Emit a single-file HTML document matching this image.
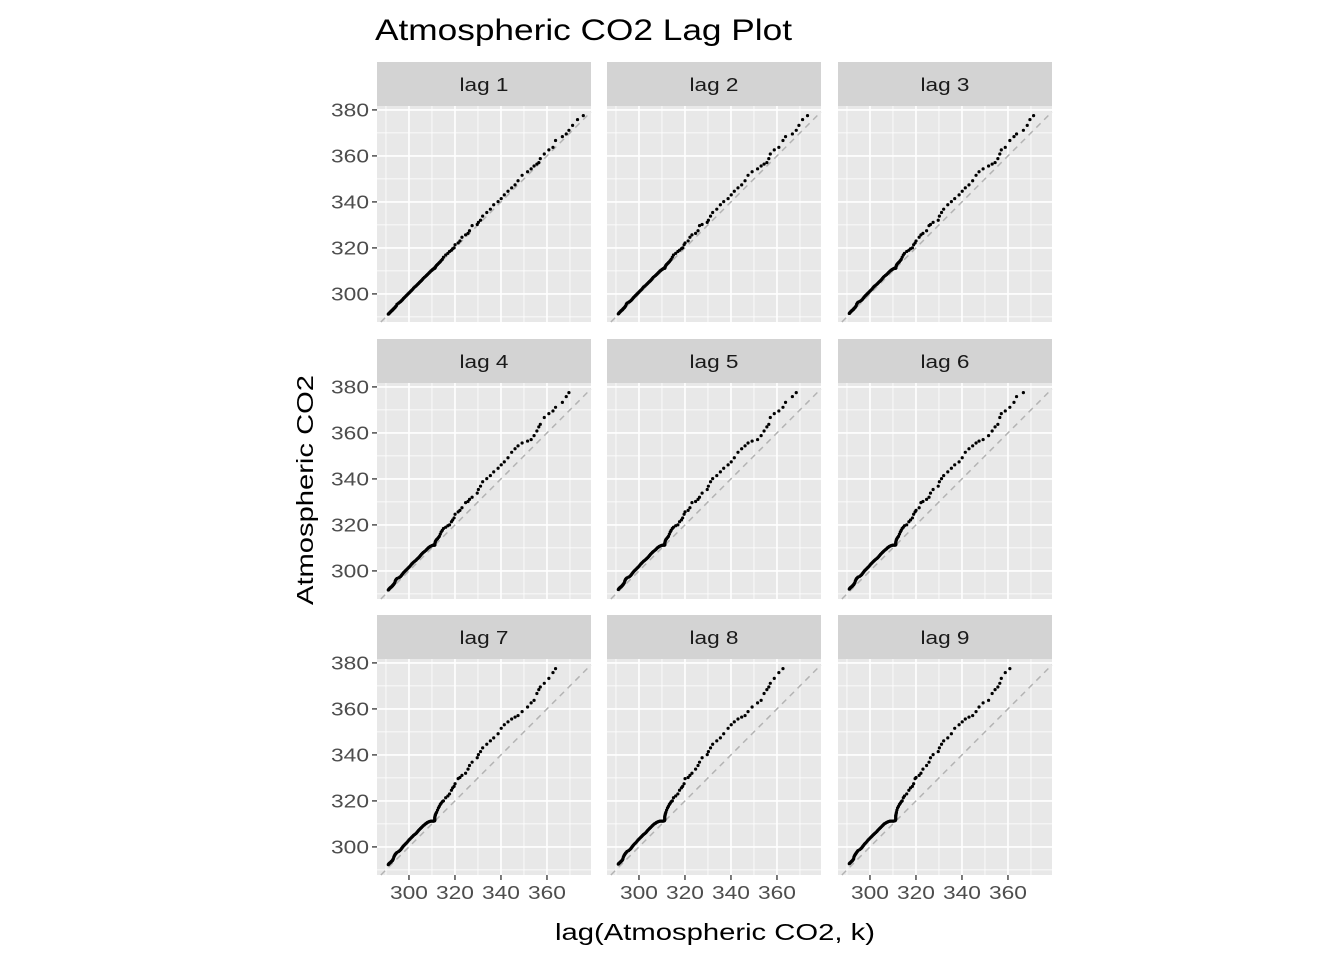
<!DOCTYPE html>
<html><head><meta charset="utf-8"><style>
body{margin:0;background:#fff;}
svg{font-family:"Liberation Sans",Arial,sans-serif;}
</style></head><body>
<svg id="chart" width="1344" height="960">
<text x="375" y="40" font-size="30" textLength="417" lengthAdjust="spacingAndGlyphs" fill="#000">Atmospheric CO2 Lag Plot</text>
<text transform="translate(313,490) rotate(-90)" text-anchor="middle" font-size="23" textLength="230" lengthAdjust="spacingAndGlyphs" fill="#000">Atmospheric CO2</text>
<text x="715" y="940" text-anchor="middle" font-size="23" textLength="320" lengthAdjust="spacingAndGlyphs" fill="#000">lag(Atmospheric CO2, k)</text>
</svg>
<script>
const lags = [1,2,3,4,5,6,7,8,9];
const yTicks = [300,320,340,360,380];
const xTicks = [300,320,340,360];
const co2 = [
291.0,291.2,291.3,291.5,291.7,291.9,292.1,292.3,292.5,292.7,
292.9,293.0,293.2,293.4,293.6,293.8,294.0,294.2,294.5,294.8,
295.5,296.0,296.4,296.7,297.0,297.3,297.6,298.0,298.4,298.8,
299.2,299.6,300.0,300.4,300.8,301.2,301.6,302.0,302.5,303.0,
303.4,303.8,304.2,304.6,305.0,305.4,305.8,306.2,306.7,307.2,
307.6,308.0,308.4,308.8,309.2,309.6,310.0,310.3,310.6,310.8,
311.0,311.1,311.2,311.2,311.2,311.2,311.2,311.3,311.4,311.5,
311.7,312.0,312.4,312.8,313.2,313.6,314.0,314.5,315.0,
315.97,316.91,317.64,318.45,318.99,319.62,320.04,321.38,322.16,323.04,
324.62,325.68,326.32,327.45,329.68,330.18,331.11,332.04,333.83,335.40,
336.84,338.75,340.11,341.45,343.05,344.65,346.12,347.42,349.19,351.57,
353.12,354.39,355.61,356.45,357.10,358.83,360.82,362.61,363.73,366.70,
368.38,369.55,371.14,373.28,375.80,377.52];
const svg=document.getElementById('chart');
const NS='http://www.w3.org/2000/svg';
function mk(t,a,p){const e=document.createElementNS(NS,t);for(const k in a)e.setAttribute(k,a[k]);(p||svg).appendChild(e);return e;}
const colX=[377,607,838], rowY=[62,339,615], PW=214, STRIP=44, PH=216;
const xLo=286.1, xHi=xLo+PW/2.3, yHi=381.7, yLo=yHi-PH/2.3;
lags.forEach((k,i)=>{
  const c=i%3, r=Math.floor(i/3);
  const x0=colX[c], y0=rowY[r]+STRIP;
  const sx=v=>x0+(v-xLo)/(xHi-xLo)*PW;
  const sy=v=>y0+PH-(v-yLo)/(yHi-yLo)*PH;
  const g=mk('g',{});
  
  
  const strip=mk('rect',{x:x0,y:rowY[r],width:PW,height:STRIP,fill:'#d3d3d3'},g);
  
  
  const st=mk('text',{x:x0+PW/2,y:rowY[r]+29,'text-anchor':'middle','font-size':'18',textLength:49,lengthAdjust:'spacingAndGlyphs',fill:'#1a1a1a'},g);
  st.textContent='lag '+k;
  
  
  mk('rect',{x:x0,y:y0,width:PW,height:PH,fill:'#e8e8e8'},g);
  for(let v=290;v<=380;v+=20){
    if(v>xLo&&v<xHi) mk('line',{x1:sx(v),x2:sx(v),y1:y0,y2:y0+PH,stroke:'#fff','stroke-width':0.8},g);
    if(v>yLo&&v<yHi) mk('line',{x1:x0,x2:x0+PW,y1:sy(v),y2:sy(v),stroke:'#fff','stroke-width':0.8},g);
  }
  xTicks.concat([380]).forEach(v=>{if(v<xHi)mk('line',{x1:sx(v),x2:sx(v),y1:y0,y2:y0+PH,stroke:'#fff','stroke-width':1.6},g);});
  yTicks.forEach(v=>{mk('line',{x1:x0,x2:x0+PW,y1:sy(v),y2:sy(v),stroke:'#fff','stroke-width':1.6},g);});
  const a=Math.max(xLo,yLo), b=Math.min(xHi,yHi);
  mk('line',{x1:sx(a),y1:sy(a),x2:sx(b),y2:sy(b),stroke:'#b3b3b3','stroke-width':1.5,'stroke-dasharray':'6,5'},g);
  for(let t=k;t<co2.length;t++){
    const p=mk('circle',{cx:sx(co2[t-k]),cy:sy(co2[t]),r:1.6,fill:'#000'},g);
    
    
  }
  if(c===0) yTicks.forEach(v=>{
    mk('line',{x1:x0-5,x2:x0,y1:sy(v),y2:sy(v),stroke:'#333','stroke-width':1.3},g);
    const t=mk('text',{x:x0-8,y:sy(v)+6.5,'text-anchor':'end','font-size':'18',textLength:38,lengthAdjust:'spacingAndGlyphs',fill:'#4d4d4d'},g);
    t.textContent=v;
    
    
  });
  if(r===2) xTicks.forEach(v=>{
    mk('line',{x1:sx(v),x2:sx(v),y1:y0+PH,y2:y0+PH+5,stroke:'#333','stroke-width':1.3},g);
    const t=mk('text',{x:sx(v),y:y0+PH+24,'text-anchor':'middle','font-size':'18',textLength:38,lengthAdjust:'spacingAndGlyphs',fill:'#4d4d4d'},g);
    t.textContent=v;
    
    
  });
});
</script>
</body></html>
